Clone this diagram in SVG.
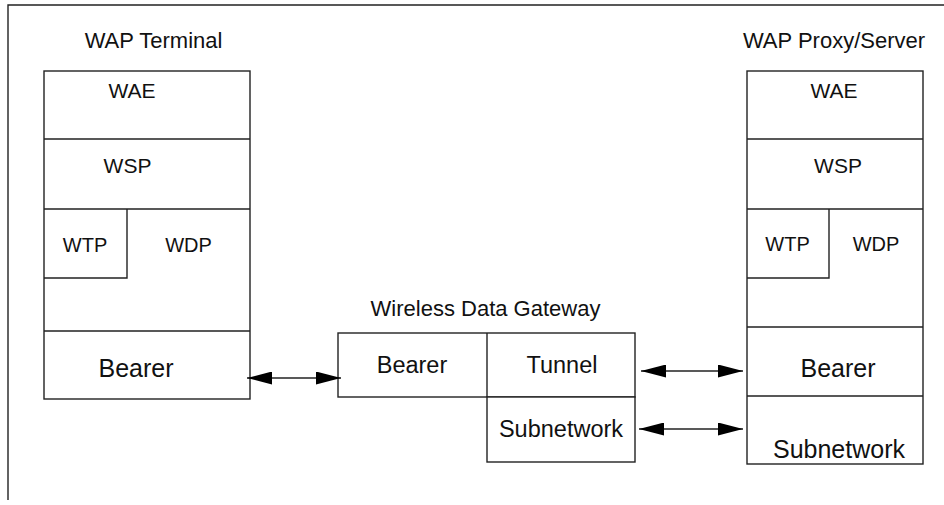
<svg xmlns="http://www.w3.org/2000/svg" width="944" height="505" viewBox="0 0 944 505">
<style>
.b{fill:#fff;stroke:#222;stroke-width:1.4}
.l{fill:none;stroke:#222;stroke-width:1.4}
text{font-family:"Liberation Sans",Arial,sans-serif;fill:#111;text-anchor:middle}
.t{font-size:22px}
.s{font-size:21px}
.m{font-size:20px}
.g{font-size:23.5px}
.k{font-size:25px}
.c{fill:none;stroke:#222;stroke-width:1.5}
</style>
<defs>
<marker id="ah" viewBox="0 0 25 13" refX="25" refY="6.5" markerWidth="25" markerHeight="13" markerUnits="userSpaceOnUse" orient="auto-start-reverse">
<path d="M0,0 L25,6.5 L0,13 z" fill="#000"/>
</marker>
</defs>
<rect width="944" height="505" fill="#fff"/>
<g id="frame">
<path class="l" d="M8,500 L8,5 L944,5"/>
</g>
<g id="terminal">
<text class="t" x="153.5" y="48">WAP Terminal</text>
<rect class="b" x="44" y="71" width="206" height="328"/>
<path class="l" d="M44,139 H250 M44,209 H250 M44,331 H250 M127,209 V278 H44"/>
<text class="s" x="132" y="98">WAE</text>
<text class="s" x="127.5" y="173">WSP</text>
<text class="m" x="85" y="252">WTP</text>
<text class="m" x="188.5" y="252">WDP</text>
<text class="k" x="136" y="377">Bearer</text>
</g>
<g id="gateway">
<text class="t" x="485.5" y="316">Wireless Data Gateway</text>
<rect class="b" x="338" y="333" width="297" height="64"/>
<rect class="b" x="487" y="397" width="148" height="65"/>
<path class="l" d="M487,333 V397"/>
<text class="g" x="412" y="373">Bearer</text>
<text class="g" x="562" y="373">Tunnel</text>
<text class="g" x="561" y="437">Subnetwork</text>
</g>
<g id="server">
<text class="t" x="834" y="48">WAP Proxy/Server</text>
<rect class="b" x="747" y="71" width="176" height="393"/>
<path class="l" d="M747,139 H923 M747,209 H923 M747,327 H923 M747,396 H923 M829,209 V278 H747"/>
<text class="s" x="834" y="98">WAE</text>
<text class="s" x="838" y="173">WSP</text>
<text class="m" x="787.5" y="251">WTP</text>
<text class="m" x="876" y="251">WDP</text>
<text class="k" x="838" y="377">Bearer</text>
<text class="k" x="839" y="458">Subnetwork</text>
</g>
<g id="connectors">
<path class="c" d="M247,378 H341" marker-start="url(#ah)" marker-end="url(#ah)"/>
<path class="c" d="M641,371 H743" marker-start="url(#ah)" marker-end="url(#ah)"/>
<path class="c" d="M639,429 H743" marker-start="url(#ah)" marker-end="url(#ah)"/>
</g>
</svg>
